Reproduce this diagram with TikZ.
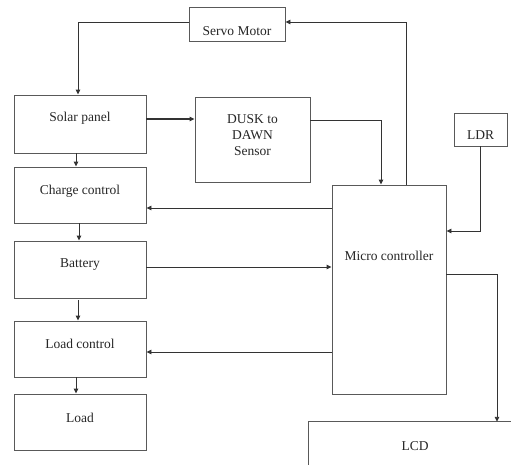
\documentclass[tikz,border=0pt]{standalone}
\usepackage{fontspec}
\setmainfont{Liberation Serif}
\usetikzlibrary{arrows.meta}
\begin{document}
\begin{tikzpicture}[x=1pt,y=-1pt,
  box/.style={draw=black!65,line width=0.9pt,inner sep=0pt},
  txt/.style={font=\fontsize{13.5}{16}\selectfont,text=black!85,inner sep=0pt,align=center},
  arr/.style={draw=black!80,line width=0.9pt,-{Triangle[length=5pt,width=4.5pt]}},
  ln/.style={draw=black!65,line width=0.9pt}]
\useasboundingbox (0,0) rectangle (511,464);
% boxes
\node[box,minimum width=96pt,minimum height=34pt] (servo) at (237,24) {};
\node[txt] (servoT) at (237,31) {Servo Motor};
\node[box,minimum width=132pt,minimum height=58pt] (solar) at (80,124) {};
\node[txt] (solarT) at (80,118) {Solar panel};
\node[box,minimum width=115pt,minimum height=85pt] (dusk) at (252.5,139.5) {};
\node[txt] (duskT) at (252.5,135) {DUSK to\\DAWN\\Sensor};
\node[box,minimum width=132pt,minimum height=56pt] (charge) at (80,195) {};
\node[txt] (chargeT) at (80,191) {Charge control};
\node[box,minimum width=132pt,minimum height=57pt] (battery) at (80,269.5) {};
\node[txt] (batteryT) at (80,265) {Battery};
\node[box,minimum width=132pt,minimum height=56pt] (loadctl) at (80,349) {};
\node[txt] (loadctlT) at (80,344) {Load control};
\node[box,minimum width=132pt,minimum height=56pt] (load) at (80,422) {};
\node[txt] (loadT) at (80,418) {Load};
\node[box,minimum width=114pt,minimum height=209pt] (micro) at (389,289.5) {};
\node[txt] (microT) at (389,256) {Micro controller};
\node[box,minimum width=53pt,minimum height=33pt] (ldr) at (480.5,129.5) {};
\node[txt] (ldrT) at (480.5,135) {LDR};
\node[inner sep=0pt,minimum width=300pt,minimum height=100pt] (lcd) at (459,472) {};
\draw[ln] (lcd.south west) -- (lcd.north west) -- (lcd.north east);
\node[txt] (lcdT) at (415,446) {LCD};
% connectors
\coordinate (c1) at (78,22);
\draw[arr] (servo.west |- c1) -| (solar.north -| c1);
\draw[arr,line width=1.6pt] (solar.east |- 0,119) -- (dusk.west |- 0,119);
\coordinate (c2) at (381,120);
\draw[arr] (dusk.east |- c2) -| (micro.north -| c2);
\coordinate (c3) at (406,22);
\draw[arr] (micro.north -| c3) |- (servo.east |- c3);
\coordinate (c4) at (480,231);
\draw[arr] (ldr.south -| c4) |- (micro.east |- c4);
\draw[arr] (micro.west |- 0,208) -- (charge.east |- 0,208);
\draw[arr] (battery.east |- 0,267) -- (micro.west |- 0,267);
\draw[arr] (micro.west |- 0,352) -- (loadctl.east |- 0,352);
\coordinate (c5) at (497,274);
\draw[arr] (micro.east |- c5) -| (lcd.north -| c5);
\draw[arr] (solar.south -| 76,0) -- (charge.north -| 76,0);
\draw[arr] (charge.south -| 79,0) -- (battery.north -| 79,0);
\draw[arr] ([yshift=-2pt]battery.south -| 78,0) -- (loadctl.north -| 78,0);
\draw[arr] (loadctl.south -| 76,0) -- (load.north -| 76,0);
\end{tikzpicture}
\end{document}
